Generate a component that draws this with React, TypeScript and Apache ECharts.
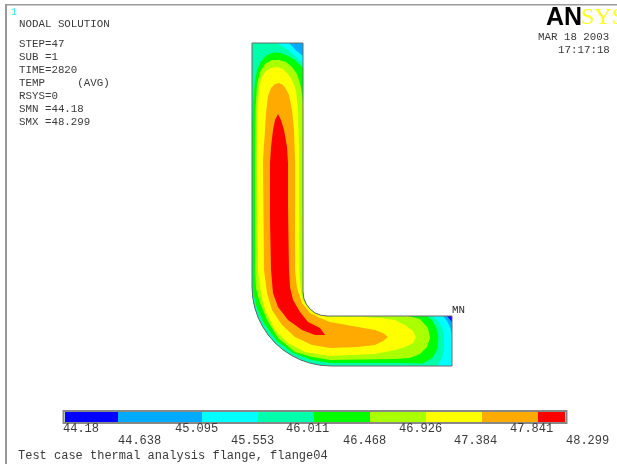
import React, { useEffect, useRef } from "react";
import * as echarts from "echarts";

// ---- contour colours (lowest to highest band) ----
const bandColors = ["#0000ff", "#00aaff", "#00ffff", "#00ffaa", "#00ff00", "#aaff00", "#ffff00", "#ffaa00", "#ff0000"];

// ---- traced iso-temperature regions, in model coordinates ----
const outerArc: number[][] = [[252, 287], [252.7, 297.3], [254.7, 307.4], [258, 317.2], [262.6, 326.5], [268.3, 335.1], [275.1, 342.9], [282.9, 349.7], [291.5, 355.4], [300.8, 360], [310.6, 363.3], [320.7, 365.3], [331, 366]];
const fillet: number[][] = [[327, 316], [320.8, 315.2], [315, 313], [310, 309], [306.2, 304], [303.8, 298.2], [303, 292]];

const region0 = [[252, 43], ...outerArc, [452, 366], [452, 316], ...fillet, [303, 43]];
const region1 = [[252, 43], ...outerArc, [452, 366], [452, 322], [447, 316], ...fillet, [303, 43]];
const region2 = [[252, 43], ...outerArc, [452, 366], [452, 334], [450, 327], [447, 321], [443, 316], ...fillet, [303, 56], [296, 50.5], [289, 43]];
const region3 = [[252, 43], ...outerArc, [438, 366], [442, 358], [444, 349], [444, 338], [443, 330], [439, 322], [433, 316], ...fillet, [303, 64], [295, 56], [287, 49], [277, 43]];
const region4 = [[252, 130], [252.5, 290], [257, 308], [265, 325], [277, 341], [293, 353], [312, 360], [331, 363], [400, 363], [423, 363.5], [432, 358], [437, 350], [438.5, 338], [436, 327], [432, 320], [426, 316], ...fillet, [303, 68], [295, 60], [288, 56], [281, 53], [274, 52.5], [267, 55], [261, 61], [257, 70], [254.5, 85], [253, 105]];
const region5 = [[255, 150], [255, 270], [256, 288], [259, 300], [267, 320], [278, 338], [295, 352], [312, 357], [330, 360], [395, 359], [410, 358], [420, 354], [427, 347], [430, 338], [428, 328], [420, 319], [408, 316], ...fillet, [303, 100], [300.5, 85], [297, 74], [292, 67], [286, 62], [279, 60], [272, 60], [265, 64], [260, 72], [257, 85], [255.5, 110]];
const region6 = [[257, 150], [258, 270], [261, 293], [265, 310], [275, 330], [288, 343], [305, 352], [330, 356], [375, 354], [395, 350], [405, 347], [413, 343], [416, 337], [413, 331], [405, 325], [395, 320], [380, 318], [362, 317], [345, 317], [327, 316.5], [320, 315], [314, 312], [308, 307], [303, 300], [301, 292], [299.5, 270], [299, 200], [299, 150], [298, 110], [296, 90], [292, 80], [288, 74], [283, 69], [277, 67], [271, 68], [266, 71], [262, 77], [259, 87], [257.5, 110]];
const region7 = [[263, 160], [264, 270], [267, 293], [272, 310], [282, 325], [295, 337], [312, 345], [330, 348], [358, 347], [375, 345], [383, 341], [388, 337], [383, 333], [375, 330], [358, 327], [330, 322], [320, 318], [310, 313], [302, 303], [297, 288], [295, 270], [295, 160], [294, 130], [292, 110], [289, 95], [286, 89], [283, 85], [279, 83], [275, 84], [271, 88], [268, 96], [266, 113], [265, 130]];
const region8 = [[271, 147], [270, 163], [270, 220], [271, 270], [273, 293], [278, 307], [288, 320], [302, 330], [315, 335], [325, 335], [320, 328], [308, 322], [300, 312], [293, 300], [290, 287], [289, 270], [288, 208], [288, 163], [287, 147], [284, 130], [281, 120], [278, 114], [275, 120], [273, 130]];
const regions = [region0, region1, region2, region3, region4, region5, region6, region7, region8];

// ---- legend ----
const legendEdges = [65, 118, 202, 258, 314, 370, 426, 482, 538, 565];
const tickLabels = ["44.18", "44.638", "45.095", "45.553", "46.011", "46.468", "46.926", "47.384", "47.841", "48.299"];
const tickLabelLeft = [63, 118, 175, 231, 286, 343, 399, 454, 510, 566];

// ---- annotations ----
const infoLines = ["STEP=47", "SUB =1", "TIME=2820", "TEMP     (AVG)", "RSYS=0", "SMN =44.18", "SMX =48.299"];
const infoRows = [44, 57, 70, 83, 96, 109, 122];
const captionText = "Test case thermal analysis flange, flange04";

const MONO = '"Liberation Mono", monospace';
const INK = "#3a3a3a";

const label = (text: string, x: number, y: number, size = 10.8, fill = INK, extra: any = {}) => ({
  type: "text",
  x,
  y,
  silent: true,
  style: { text, fill, font: `${size}px ${MONO}`, textAlign: "left", textVerticalAlign: "middle", ...extra },
});

export default function App() {
  const ref = useRef<HTMLDivElement>(null);
  useEffect(() => {
    const chart = echarts.init(ref.current!, undefined, { renderer: "svg" });
    chart.setOption({
      animation: false,
      backgroundColor: "#ffffff",
      grid: { left: 0, right: 0, top: 0, bottom: 0 },
      xAxis: { type: "value", min: 0, max: 617, show: false },
      yAxis: { type: "value", min: 0, max: 466, inverse: true, show: false },
      series: [
        {
          type: "custom",
          name: "TEMP",
          coordinateSystem: "cartesian2d",
          clip: false,
          silent: true,
          encode: { x: 0, y: 1 },
          data: regions.map((r, i) => [r[0][0], r[0][1], i]),
          renderItem: (params: any, api: any) => {
            const i = api.value(2);
            return {
              type: "polygon",
              shape: { points: regions[i].map((p) => api.coord(p)) },
              style: { fill: bandColors[i], stroke: null },
            };
          },
        },
        {
          type: "custom",
          name: "outline",
          coordinateSystem: "cartesian2d",
          clip: false,
          silent: true,
          encode: { x: 0, y: 1 },
          data: [[region0[0][0], region0[0][1]]],
          renderItem: (params: any, api: any) => ({
            type: "polygon",
            shape: { points: region0.map((p) => api.coord(p)) },
            style: { fill: "none", stroke: "#6a6a6a", lineWidth: 1 },
          }),
        },
        {
          type: "custom",
          name: "legend",
          coordinateSystem: "cartesian2d",
          clip: false,
          silent: true,
          encode: { x: 0, y: 1 },
          data: bandColors.map((c, i) => [legendEdges[i], legendEdges[i + 1], i]),
          renderItem: (params: any, api: any) => {
            const a = api.coord([api.value(0), 412]);
            const b = api.coord([api.value(1), 422]);
            return {
              type: "rect",
              shape: { x: a[0], y: a[1], width: b[0] - a[0], height: b[1] - a[1] },
              style: { fill: bandColors[api.value(2)] },
            };
          },
        },
        {
          type: "custom",
          name: "legend labels",
          coordinateSystem: "cartesian2d",
          clip: false,
          silent: true,
          encode: { x: 0, y: 1 },
          data: tickLabels.map((t, i) => [tickLabelLeft[i], i % 2 === 0 ? 429 : 441, i]),
          renderItem: (params: any, api: any) => {
            const p = api.coord([api.value(0), api.value(1)]);
            return label(tickLabels[api.value(2)], p[0], p[1], 12);
          },
        },
      ],
      graphic: [
        { type: "rect", shape: { x: 5, y: 4, width: 612, height: 1.5 }, style: { fill: "#999999" }, silent: true },
        { type: "rect", shape: { x: 5, y: 4, width: 2, height: 460 }, style: { fill: "#999999" }, silent: true },
        { type: "rect", shape: { x: 63.5, y: 411, width: 503, height: 12 }, style: { fill: "none", stroke: "#888888", lineWidth: 2 }, silent: true },
        label("1", 11, 12, 10, "#30e8e8"),
        label("NODAL SOLUTION", 19, 24),
        ...infoLines.map((t, i) => label(t, 19, infoRows[i])),
        label("MAR 18 2003", 538, 37),
        label("17:17:18", 558, 50),
        label("MX", 282, 279, 10.8, "#2a2a2a"),
        label("MN", 452, 309.5, 10.8, "#2a2a2a"),
        label(captionText, 18, 456, 12),
        {
          type: "text", x: 546, y: 16, silent: true,
          style: { text: "AN", fill: "#000000", font: '900 25px "Liberation Sans"', textAlign: "left", textVerticalAlign: "middle" },
        },
        {
          type: "text", x: 581, y: 16, silent: true,
          style: { text: "SYS", fill: "#ffff20", font: '24px "Liberation Serif"', textAlign: "left", textVerticalAlign: "middle" },
        },
      ],
    });
    return () => chart.dispose();
  }, []);
  return (
    <div
      ref={ref}
      style={{ position: "fixed", left: 0, top: 0, width: 617, height: 466, filter: "blur(0.55px)", overflow: "hidden" }}
    />
  );
}
